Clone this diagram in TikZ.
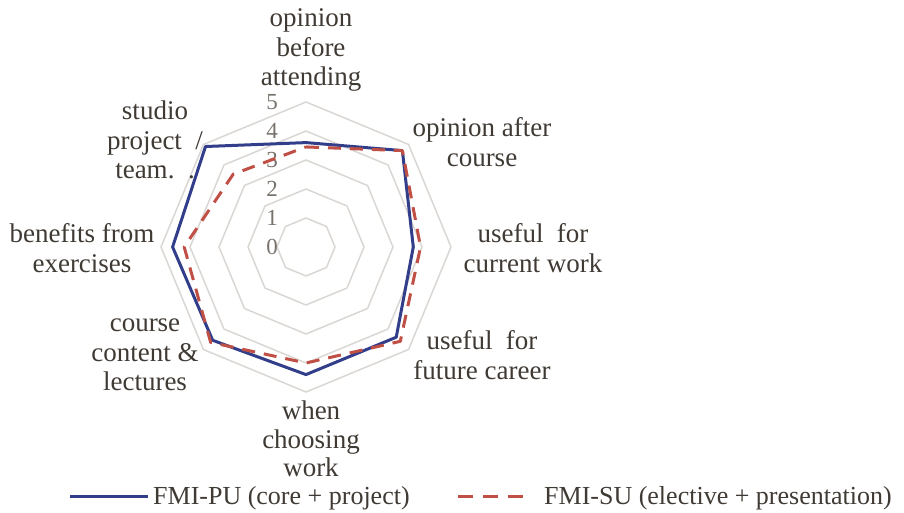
\documentclass[tikz,border=0pt]{standalone}
\usepackage{fontspec}
\setmainfont{Liberation Serif}
\usepackage{tikz}
\usetikzlibrary{positioning}
\definecolor{gridgray}{RGB}{217,214,211}
\definecolor{labelgray}{RGB}{64,58,52}
\definecolor{tickgray}{RGB}{120,114,108}
\definecolor{publue}{RGB}{50,62,138}
\definecolor{sured}{RGB}{192,80,70}
\def\u{29}

\tikzset{
  ring/.style={color=gridgray, line width=1.5pt, line join=round},
  axislabel/.style={color=labelgray, align=center, inner sep=0pt, font=\fontsize{27}{29.5}\selectfont},
  legendlabel/.style={color=labelgray, anchor=west, inner sep=0pt, font=\fontsize{26}{29.5}\selectfont},
  ticklabel/.style={color=tickgray, anchor=east, inner sep=0pt, font=\fontsize{23}{23}\selectfont},
  puline/.style={color=publue, line width=3pt, line join=round},
  suline/.style={color=sured, line width=3pt, line join=round, dash pattern=on 13pt off 9pt},
}

\begin{document}
\begin{tikzpicture}[line cap=butt,x=1pt,y=1pt]
\useasboundingbox (-306,-266) rectangle (598,247);
% grid rings 1..5
\foreach \r in {1,...,5}
  \draw [ring] (90:{\u*\r}) -- (45:{\u*\r}) -- (0:{\u*\r}) -- (-45:{\u*\r}) -- (-90:{\u*\r}) -- (-135:{\u*\r}) -- (180:{\u*\r}) -- (135:{\u*\r}) -- cycle;
% scale
\foreach \r in {0,...,5}
  \node [ticklabel] (tick\r) at (-28,{\u*\r}) {\r};
% FMI-PU
\draw [puline] (90:{\u*3.6}) -- (45:{\u*4.7}) -- (0:{\u*3.7}) -- (-45:{\u*4.4}) -- (-90:{\u*4.4}) -- (-135:{\u*4.55}) -- (180:{\u*4.6}) -- (135:{\u*4.9}) -- cycle;
% FMI-SU
\draw [suline] (90:{\u*3.45}) -- (45:{\u*4.7}) -- (0:{\u*3.95}) -- (-45:{\u*4.6}) -- (-90:{\u*4.0}) -- (-135:{\u*4.65}) -- (180:{\u*4.2}) -- (135:{\u*3.55}) -- cycle;
% axis labels
\node [axislabel] (before) at (5,197) {opinion\\before\\attending};
\node [axislabel] (after) at (176,105) {opinion after\\course};
\node [axislabel] (current) at (227,-1) {useful\ \ for\\current work};
\node [axislabel] (future) at (176,-108) {useful\ \ for\\future career};
\node [axislabel, font=\fontsize{27}{28.5}\selectfont] (choosing) at (5,-192) {when\\choosing\\work};
\node [axislabel] (content) at (-161,-108) {course\\content \&\\lectures};
\node [axislabel] (exercises) at (-224,-1) {benefits from\\exercises};
\node [axislabel] (studio) at (-151,107) {studio\\project\ \ /\\team.\ \ .};
% legend
\coordinate (puA) at (-236,-249);
\coordinate (puB) at (-158,-249);
\draw [puline] (puA) -- (puB);
\node [legendlabel] (pulegend) at (-153,-251) {FMI-PU (core + project)};
\coordinate (suA) at (152,-249);
\coordinate (suB) at (220,-249);
\draw [suline, dash pattern=on 15pt off 10pt] (suA) -- (suB);
\node [legendlabel] (sulegend) at (238,-251) {FMI-SU (elective + presentation)};
\end{tikzpicture}
\end{document}
